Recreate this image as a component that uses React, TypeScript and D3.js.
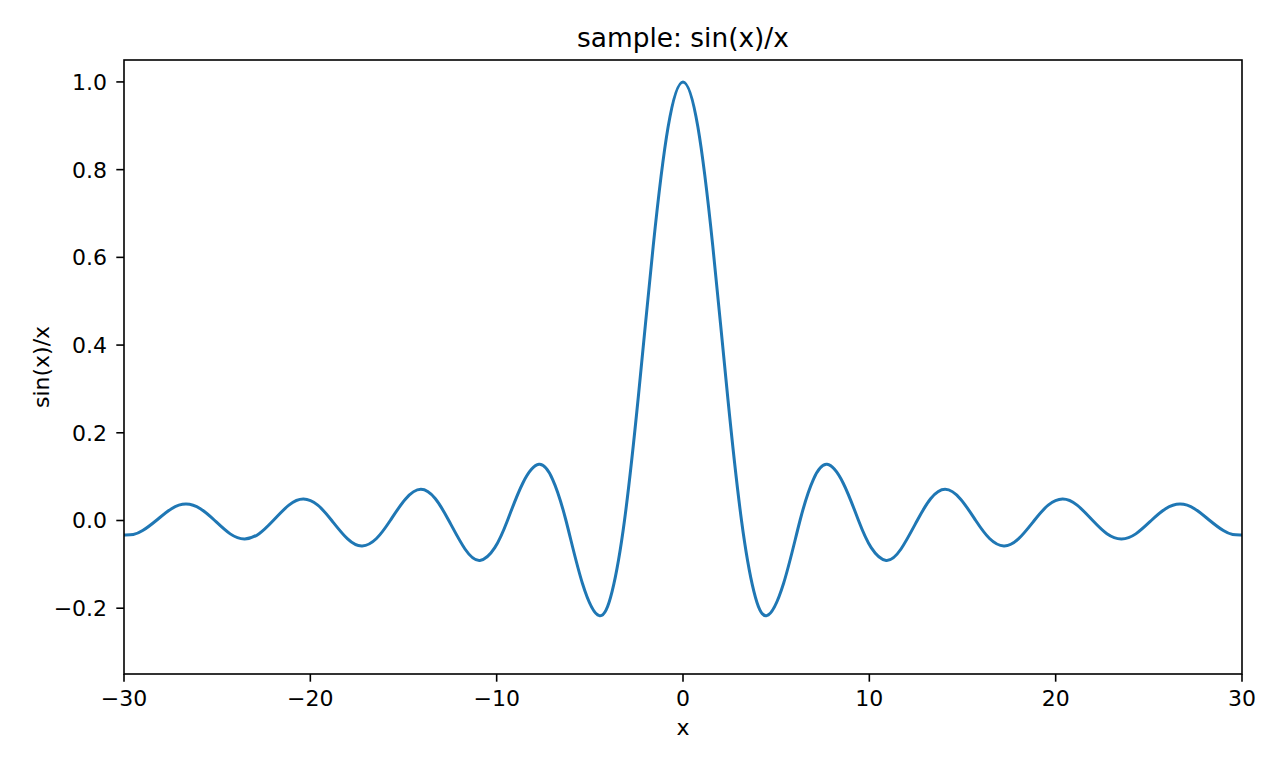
import * as React from "react";
import * as d3 from "d3";

// points (peaks, troughs, zero crossings and a few in between)
const xValues = [
  -30, -29.5, -29.0, -28.27, -27.45, -26.67, -25.9, -25.13, -24.3, -23.52, -22.75, -21.99,
  -21.15, -20.37, -19.6, -18.85, -18.0, -17.22, -16.45, -15.71, -14.9, -14.07, -13.3, -12.57,
  -11.7, -10.9, -10.1, -9.42, -8.6, -7.73, -7.0, -6.28, -5.4, -4.49, -3.8, -3.14, -2.4, -1.6,
  -0.8, 0, 0.8, 1.6, 2.4, 3.14, 3.8, 4.49, 5.4, 6.28, 7.0, 7.73, 8.6, 9.42, 10.1, 10.9, 11.7,
  12.57, 13.3, 14.07, 14.9, 15.71, 16.45, 17.22, 18.0, 18.85, 19.6, 20.37, 21.15, 21.99, 22.75,
  23.52, 24.3, 25.13, 25.9, 26.67, 27.45, 28.27, 29.0, 29.5, 30,
];
const yValues = [
  -0.033, -0.032, -0.023, 0, 0.027, 0.0375, 0.027, 0, -0.0305, -0.042, -0.030, 0,
  0.035, 0.049, 0.035, 0, -0.042, -0.058, -0.041, 0, 0.0485, 0.071, 0.050, 0,
  -0.065, -0.091, -0.062, 0, 0.085, 0.128, 0.094, 0, -0.143, -0.217, -0.161, 0, 0.281, 0.625,
  0.897, 1.0, 0.897, 0.625, 0.281, 0, -0.161, -0.217, -0.143, 0, 0.094, 0.128, 0.085, 0, -0.062,
  -0.091, -0.065, 0, 0.050, 0.071, 0.0485, 0, -0.041, -0.058, -0.042, 0, 0.035, 0.049, 0.035, 0,
  -0.030, -0.042, -0.0305, 0, 0.027, 0.0375, 0.027, 0, -0.023, -0.032, -0.033,
];
const xTicks = [-30, -20, -10, 0, 10, 20, 30];
const yTicks = [-0.2, 0.0, 0.2, 0.4, 0.6, 0.8, 1.0];

const W = 1280, H = 768;
const margin = { top: 60, right: 38, bottom: 94, left: 124 };
const font = "DejaVu Sans, sans-serif";
const tickFont = 22;

const fmtTick = (v: number, digits: number) => {
  const s = Math.abs(v).toFixed(digits);
  return (v < 0 ? "\u2212" : "") + s;
};

export default function App() {
  const innerW = W - margin.left - margin.right;
  const innerH = H - margin.top - margin.bottom;

  const x = d3.scaleLinear().domain([-30, 30]).range([0, innerW]);
  const y = d3.scaleLinear().domain([-0.35, 1.05]).range([innerH, 0]);

  const pts: [number, number][] = xValues.map((v, i) => [v, yValues[i]]);
  const line = d3
    .line<[number, number]>()
    .x((d) => x(d[0]))
    .y((d) => y(d[1]))
    .curve(d3.curveNatural);

  const tickLen = 7.7;
  const pad = 7.7;

  return (
    <svg width={W} height={H} style={{ position: "absolute", left: 0, top: 0, background: "#fff" }}>
      <rect width={W} height={H} fill="#fff" />
      <text x={margin.left + innerW / 2} y={47} textAnchor="middle" fontFamily={font} fontSize={26.4} fill="#000">
        sample: sin(x)/x
      </text>
      <g transform={`translate(${margin.left},${margin.top})`}>
        <clipPath id="plotclip">
          <rect width={innerW} height={innerH} />
        </clipPath>
        <path d={line(pts) || ""} fill="none" stroke="#1f77b4" strokeWidth={3} strokeLinejoin="round" strokeLinecap="square" clipPath="url(#plotclip)" />
        <rect width={innerW} height={innerH} fill="none" stroke="#000" strokeWidth={1.6} />

        {xTicks.map((t) => (
          <g key={"x" + t} transform={`translate(${x(t)},${innerH})`}>
            <line y2={tickLen} stroke="#000" strokeWidth={1.6} />
            <text y={31.7} textAnchor="middle" fontFamily={font} fontSize={tickFont} fill="#000">
              {fmtTick(t, 0)}
            </text>
          </g>
        ))}
        {yTicks.map((t) => (
          <g key={"y" + t} transform={`translate(0,${y(t)})`}>
            <line x2={-tickLen} stroke="#000" strokeWidth={1.6} />
            <text x={-tickLen - pad - 1.5} dy="0.36em" textAnchor="end" fontFamily={font} fontSize={tickFont} fill="#000">
              {fmtTick(t, 1)}
            </text>
          </g>
        ))}
      </g>
      <text x={margin.left + innerW / 2} y={735} textAnchor="middle" fontFamily={font} fontSize={tickFont} fill="#000">
        x
      </text>
      <text
        transform={`translate(49,${margin.top + innerH / 2}) rotate(-90)`}
        textAnchor="middle"
        fontFamily={font}
        fontSize={tickFont}
        fill="#000"
      >
        sin(x)/x
      </text>
    </svg>
  );
}
